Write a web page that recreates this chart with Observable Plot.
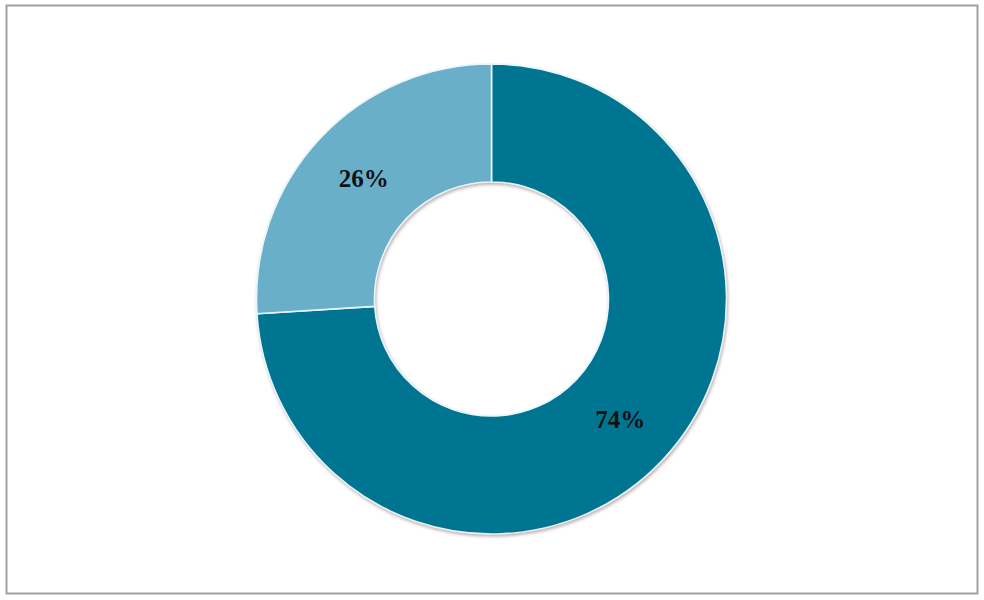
<!DOCTYPE html>
<html>
<head>
<meta charset="utf-8">
<script src="https://cdn.jsdelivr.net/npm/d3@7"></script>
<script src="https://cdn.jsdelivr.net/npm/@observablehq/plot@0.6"></script>
<style>
  html, body { margin: 0; padding: 0; background: #fff; }
  #chart svg { display: block; }
  #chart svg text.lbl { font-family: "Liberation Serif", "Times New Roman", Times, serif; }
</style>
</head>
<body>
<div id="chart"></div>
<script>
const categories = ["Share A", "Share B"];
const values = [74, 26];
const labels = ["74%", "26%"];
const colors = ["#007592", "#6aafc9"];

const outerR = 235, innerR = 117;
const pie = d3.pie().sort(null).value(d => d.value);
const arcs = pie(categories.map((c, i) => ({category: c, value: values[i], label: labels[i], color: colors[i]})));
const labelR = (outerR + innerR) / 2;
const labelData = arcs.map(a => {
  const mid = (a.startAngle + a.endAngle) / 2;
  return {label: a.data.label, x: Math.sin(mid) * labelR, y: Math.cos(mid) * labelR};
});

const W = 984, H = 600;
const mL = 6, mR = 7, mT = 5, mB = 7;
const hw = (W - mL - mR) / 2, hh = (H - mT - mB) / 2;

function donut(index, scales, values, dimensions) {
  const cx = scales.x(0), cy = scales.y(0);
  const k = scales.x(1) - scales.x(0);
  const g = d3.create("svg:g")
    .attr("transform", `translate(${cx},${cy})`)
    .style("filter", "drop-shadow(1.5px 2px 1.5px rgba(90,40,40,0.35))");
  const arcGen = d3.arc().innerRadius(innerR * k).outerRadius(outerR * k);
  g.selectAll("path").data(arcs).join("path")
    .attr("d", arcGen)
    .attr("fill", d => d.data.color)
    .attr("stroke", "#e8f6fb")
    .attr("stroke-width", 1.6)
    .attr("stroke-linejoin", "round");
  return g.node();
}

const chart = Plot.plot({
  width: W,
  height: H,
  marginLeft: mL, marginRight: mR, marginTop: mT, marginBottom: mB,
  style: {fontFamily: "Liberation Serif, Times New Roman, serif"},
  x: {domain: [-hw, hw], axis: null},
  y: {domain: [-hh, hh], axis: null},
  marks: [
    Plot.frame({stroke: "#a0a0a0", strokeWidth: 2}),
    donut,
    Plot.text(labelData, {
      x: "x", y: "y", text: "label",
      className: "lbl",
      fontFamily: "Liberation Serif",
      fontWeight: "bold", fontSize: 25, fill: "#111111"
    })
  ]
});
chart.querySelectorAll("text").forEach(t => t.classList.add("lbl"));
document.getElementById("chart").append(chart);
</script>
</body>
</html>
